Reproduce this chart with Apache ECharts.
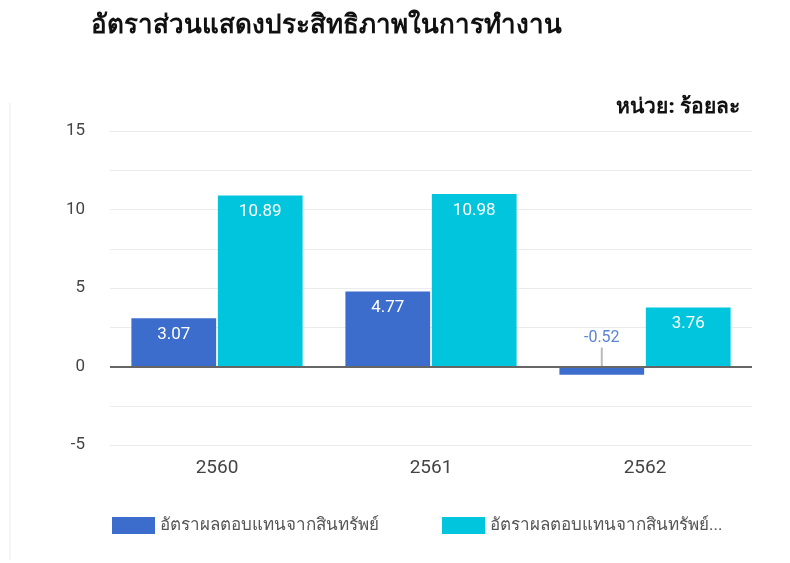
<!DOCTYPE html>
<html><head><meta charset="utf-8">
<script src="https://cdn.jsdelivr.net/npm/echarts@6/dist/echarts.min.js"></script>
<style>html,body{margin:0;padding:0;background:#fff}#c{width:790px;height:563px}</style>
</head><body><div id="c"></div>
<script>
var categories = ['2560', '2561', '2562'];
var seriesNames = ['อัตราผลตอบแทนจากสินทรัพย์', 'อัตราผลตอบแทนจากสินทรัพย์...'];
var roaValues = [3.07, 4.77, -0.52];
var roeValues = [10.89, 10.98, 3.76];
var yTickLabels = [-5, 0, 5, 10, 15];

var chart = echarts.init(document.getElementById('c'));
var font = "Roboto, 'Noto Sans', sans-serif";
function barData(vals, color) {
  return vals.map(function (v) {
    if (v < 0) {
      return {
        value: v,
        label: {
          position: 'top', distance: 0, align: 'center',
          formatter: function (p) { return '{v|' + p.value + '}\n{l|}'; },
          rich: {
            v: { color: color, fontSize: 16, lineHeight: 20, align: 'center' },
            l: { width: 2, height: 19, backgroundColor: '#bbbbbb', align: 'center' }
          }
        }
      };
    }
    return v;
  });
}
chart.setOption({
  animation: false,
  textStyle: { fontFamily: font },
  graphic: [{
    type: 'line', silent: true,
    shape: { x1: 10, y1: 103, x2: 10, y2: 560 },
    style: { stroke: '#f0f0f0', lineWidth: 1.5 }
  }],
  title: [{
    text: 'อัตราส่วนแสดงประสิทธิภาพในการทำงาน',
    left: 86, top: 8,
    textStyle: { fontSize: 26, fontWeight: 900, color: '#111' }
  }, {
    text: 'หน่วย: ร้อยละ',
    right: 45, top: 92,
    textStyle: { fontSize: 21, fontWeight: 900, color: '#111' }
  }],
  legend: [{
    data: [seriesNames[0]], left: 107, top: 512,
    itemWidth: 43, itemHeight: 17, icon: 'rect', itemGap: 8,
    textStyle: { fontSize: 17, color: '#555' }
  }, {
    data: [seriesNames[1]], left: 437, top: 512,
    itemWidth: 43, itemHeight: 17, icon: 'rect',
    textStyle: { fontSize: 17, color: '#555' }
  }],
  grid: { left: 110, right: 38, top: 131, bottom: 118, containLabel: false },
  xAxis: {
    type: 'category', data: categories,
    axisLine: { show: false },
    axisTick: { show: false },
    axisLabel: { fontSize: 19, color: '#444', margin: 14 }
  },
  yAxis: {
    type: 'value', min: -5, max: 15, interval: 2.5,
    axisLine: { show: false }, axisTick: { show: false },
    axisLabel: {
      fontSize: 17, color: '#444', margin: 25,
      formatter: function (v) { return yTickLabels.indexOf(v) >= 0 ? String(v) : ''; }
    },
    splitLine: { lineStyle: { color: '#ebebeb', width: 1 } }
  },
  series: [{
    name: seriesNames[0], type: 'bar',
    data: barData(roaValues, '#5a84d4'),
    itemStyle: { color: '#3d6dcc' },
    barGap: '2%', barCategoryGap: '20%',
    label: { show: true, position: 'insideTop', color: '#fff', fontSize: 17, distance: 8 },
    markLine: {
      silent: true, symbol: 'none', label: { show: false },
      lineStyle: { color: '#666', width: 2, type: 'solid' },
      data: [{ yAxis: 0 }]
    },
    z: 2
  }, {
    name: seriesNames[1], type: 'bar',
    data: barData(roeValues, '#00c5dc'),
    itemStyle: { color: '#00c5dc' },
    barGap: '2%', barCategoryGap: '20%',
    label: { show: true, position: 'insideTop', color: '#fff', fontSize: 17, distance: 8 }
  }]
});
</script></body></html>
